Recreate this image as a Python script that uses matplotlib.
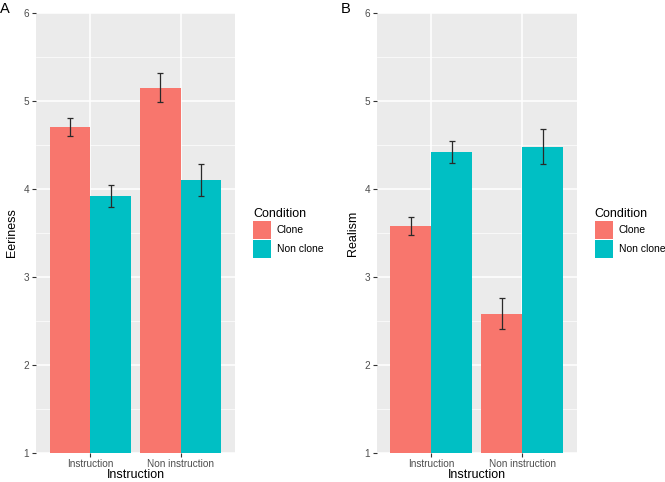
import matplotlib
matplotlib.use("Agg")
import matplotlib.pyplot as plt
import numpy as np

categories = ["Instruction", "Non instruction"]
conditions = ["Clone", "Non clone"]

eeriness_mean = {"Clone": [4.70, 5.15], "Non clone": [3.92, 4.10]}
eeriness_err = {"Clone": [0.105, 0.165], "Non clone": [0.125, 0.18]}

realism_mean = {"Clone": [3.58, 2.58], "Non clone": [4.42, 4.48]}
realism_err = {"Clone": [0.105, 0.175], "Non clone": [0.125, 0.195]}

colors = {"Clone": "#F8766D", "Non clone": "#00BFC4"}

plt.rcParams['font.family'] = ['Liberation Sans', 'DejaVu Sans']


def panel(fig, rect, means, errs, ylabel, letter, letter_x):
    ax = fig.add_axes(rect)
    ax.set_facecolor("#EBEBEB")
    x = np.arange(1, len(categories) + 1)
    w = 0.45
    for i, cond in enumerate(conditions):
        xpos = x + (i - 0.5) * w
        ax.bar(xpos, np.array(means[cond]) - 1, width=w, bottom=1,
               color=colors[cond], label=cond, zorder=2)
        ax.errorbar(xpos, means[cond], yerr=errs[cond], fmt="none",
                    ecolor="#2a2a2a", elinewidth=0.9, capsize=2.2,
                    capthick=0.9, zorder=3)
    ax.set_xlim(0.4, 2.6)
    ax.set_ylim(1, 6)
    ax.set_yticks([1, 2, 3, 4, 5, 6])
    ax.set_yticks([1.5, 2.5, 3.5, 4.5, 5.5], minor=True)
    ax.set_xticks(x)
    ax.set_xticklabels(categories)
    ax.grid(which="major", color="white", linewidth=1.1, zorder=0)
    ax.grid(which="minor", color="white", linewidth=0.5, zorder=0)
    ax.set_axisbelow(True)
    for s in ax.spines.values():
        s.set_visible(False)
    ax.tick_params(axis="both", which="major", color="#333333", length=2.8,
                   width=0.8, labelsize=7.2, labelcolor="#4D4D4D", pad=2)
    ax.tick_params(axis="x", which="major", pad=1.5)
    ax.tick_params(axis="both", which="minor", length=0)
    ax.set_xlabel("Instruction", fontsize=9, labelpad=0)
    ax.set_ylabel(ylabel, fontsize=9, labelpad=4)
    leg = ax.legend(title="Condition", loc="center left",
                    bbox_to_anchor=(1.09, 0.5), frameon=False,
                    fontsize=7.5, title_fontsize=9, handlelength=1.75,
                    handleheight=2.3, handletextpad=0.55, labelspacing=0.12,
                    borderaxespad=0, borderpad=0)
    leg._legend_box.align = "left"
    fig.text(letter_x, 0.995, letter, fontsize=10.5, va="top", ha="left")
    return ax


fig = plt.figure(figsize=(6.65, 4.82), dpi=100)
panel(fig, [0.0541, 0.0600, 0.2993, 0.9137], eeriness_mean, eeriness_err,
      "Eeriness", "A", 0.0)
panel(fig, [0.5665, 0.0600, 0.3008, 0.9137], realism_mean, realism_err,
      "Realism", "B", 0.512)
fig.savefig("out.png", dpi=100)
